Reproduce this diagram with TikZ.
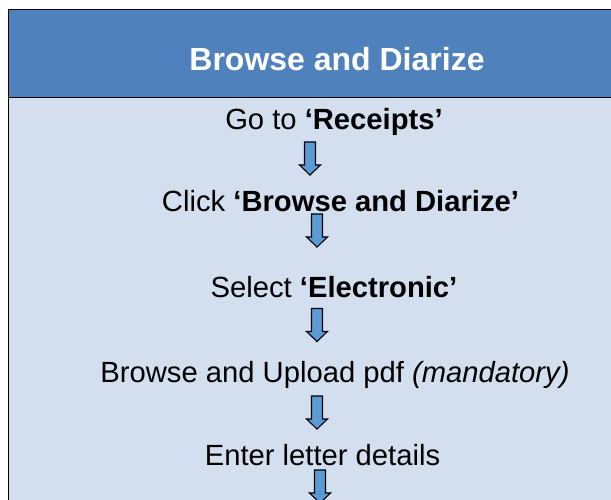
\documentclass[tikz,border=0pt]{standalone}
\usepackage{fontspec}
\setmainfont{Liberation Sans}
\definecolor{headblue}{HTML}{4F81BD}
\definecolor{bodyblue}{HTML}{D3DFEE}
\definecolor{arrowblue}{HTML}{5B9BD5}
\tikzset{
  x=1pt, y=-1pt,
  steptext/.style={anchor=base, inner sep=0pt, font=\fontsize{29.2}{35}\selectfont},
  titletext/.style={anchor=base, inner sep=0pt, text=white, font=\fontsize{32}{38}\selectfont\bfseries},
  blockdown/.pic={
    \draw[fill=arrowblue, line width=1.1pt, line join=miter]
      (-5.5,0) -- (5.5,0) -- (5.5,23) -- (10.5,23) -- (0,33) -- (-10.5,23) -- (-5.5,23) -- cycle;
    \coordinate (-top) at (0,0);
    \coordinate (-tip) at (0,33);
  }
}
\begin{document}
\begin{tikzpicture}
  \useasboundingbox (0,0) rectangle (611,500);
  \begin{scope}
    \clip (0,0) rectangle (611,500);
    % header band and body panel
    \fill[bodyblue] (8.5,97.5) rectangle (620,510);
    \fill[headblue] (8.5,9.5) rectangle (620,97.5);
    \draw[line width=1pt] (620,9.5) -- (8.5,9.5) -- (8.5,510);
    \draw[line width=1pt] (8.5,97.5) -- (620,97.5);
  \end{scope}

  \node[titletext] (title) at (337,71) {Browse and Diarize};

  \node[steptext] (s1) at (334,130) {Go to \textbf{‘Receipts’}};
  \node[steptext] (s2) at (340.5,211.5) {Click \textbf{‘Browse and Diarize’}};
  \node[steptext] (s3) at (334,297) {Select \textbf{‘Electronic’}};
  \node[steptext] (s4) at (335,382) {Browse and Upload pdf \textit{(mandatory)}};
  \node[steptext] (s5) at (322.5,465) {Enter letter details};

  \begin{scope}
    \clip (0,0) rectangle (611,500);
    \pic (a1) at (310,142) {blockdown};
    \pic (a2) at (317,214) {blockdown};
    \pic (a3) at (317,308.5) {blockdown};
    \pic (a4) at (317,396) {blockdown};
    \pic (a5) at (320,470) {blockdown};
  \end{scope}
\end{tikzpicture}
\end{document}
